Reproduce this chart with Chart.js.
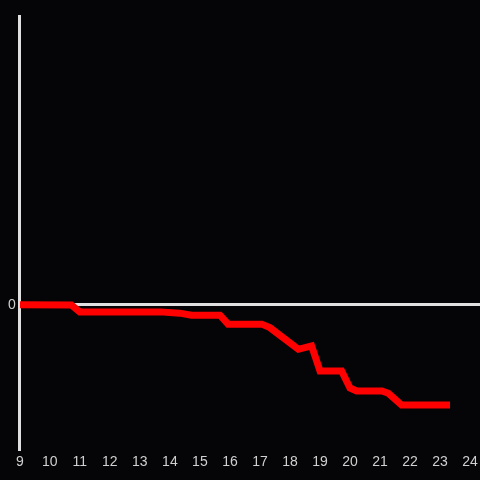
<!DOCTYPE html>
<html>
<head>
<meta charset="utf-8">
<script src="https://cdn.jsdelivr.net/npm/chart.js@4"></script>
<style>
  html, body { margin: 0; padding: 0; background: #050507; }
  #wrap { width: 480px; height: 480px; }
</style>
</head>
<body>
<div id="wrap"><canvas id="chart"></canvas></div>
<script>
// hour of day vs. value
const times = [9, 10.72, 11, 13.67, 14.33, 14.72, 15.67, 15.94, 17.06, 17.33, 18.28, 18.72, 19, 19.72, 20, 20.22, 21.06, 21.28, 21.72, 23.33];
const values = [0, -0.002, -0.049, -0.049, -0.058, -0.072, -0.072, -0.134, -0.134, -0.158, -0.308, -0.285, -0.458, -0.458, -0.576, -0.597, -0.597, -0.613, -0.694, -0.694];
const xTicks = [9, 10, 11, 12, 13, 14, 15, 16, 17, 18, 19, 20, 21, 22, 23, 24];
const yTicks = [0];

const ctx = document.getElementById('chart').getContext('2d');
new Chart(ctx, {
  type: 'line',
  data: {
    datasets: [{
      data: times.map((t, i) => ({ x: t, y: values[i] })),
      borderColor: '#ff0000',
      borderWidth: 7,
      pointRadius: 0,
      tension: 0,
      fill: false,
    }],
  },
  options: {
    responsive: true,
    maintainAspectRatio: false,
    animation: false,
    layout: { padding: { top: 16, left: 4, right: 0, bottom: 4 } },
    plugins: { legend: { display: false }, tooltip: { enabled: false } },
    scales: {
      x: {
        type: 'linear',
        min: 9,
        max: 24.33,
        afterBuildTicks: axis => { axis.ticks = xTicks.map(v => ({ value: v })); },
        afterFit: axis => { axis.paddingRight = 0; axis.paddingLeft = 0; },
        grid: { display: false, drawTicks: false },
        border: { display: false },
        ticks: {
          color: '#d0d0d0',
          font: { family: 'Liberation Sans', size: 14 },
          padding: 5,
          maxRotation: 0,
          autoSkip: false,
        },
      },
      y: {
        min: -1,
        max: 2,
        afterBuildTicks: axis => { axis.ticks = yTicks.map(v => ({ value: v })); },
        grid: { color: '#e0e0e0', lineWidth: 3, drawTicks: false },
        border: { display: true, color: '#e0e0e0', width: 3 },
        ticks: {
          color: '#d0d0d0',
          font: { family: 'Liberation Sans', size: 14 },
          padding: 4,
        },
      },
    },
  },
});
</script>
</body>
</html>
